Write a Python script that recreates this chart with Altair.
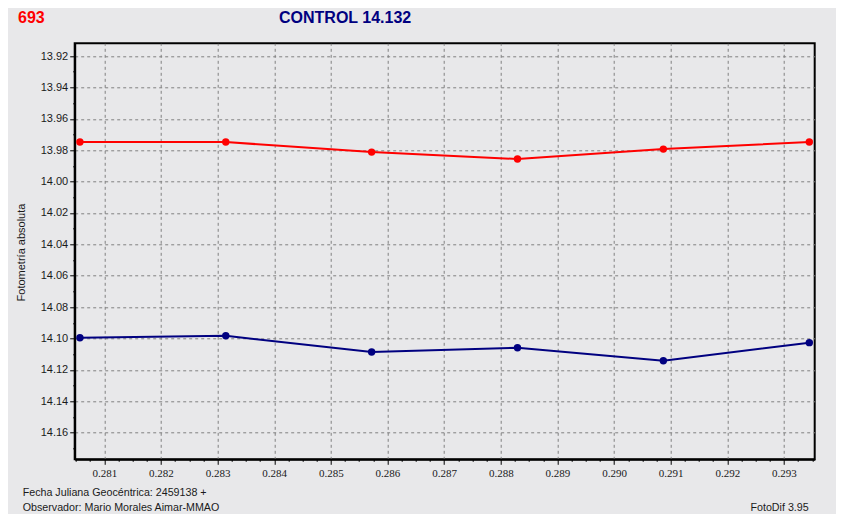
import altair as alt
import pandas as pd

# ---- data ----
jd_frac = [0.28057, 0.283145, 0.28572, 0.288295, 0.29087, 0.293447]
var_693 = [13.9748, 13.9748, 13.9812, 13.9856, 13.9793, 13.9748]
control = [14.0995, 14.0982, 14.1086, 14.1058, 14.1141, 14.1026]
series_names = ["693", "CONTROL 14.132"]
series_colors = ["#ff0000", "#000080"]

x_major = [round(0.281 + 0.001 * i, 3) for i in range(13)]
x_ticks = [round(0.2805 + 0.00025 * i, 5) for i in range(53)]
y_ticks = [round(13.92 + 0.01 * i, 2) for i in range(26)]

title_left = "693"
title_center = "CONTROL 14.132"
y_title = "Fotometría absoluta"
foot1 = "Fecha Juliana Geocéntrica: 2459138 +"
foot2 = "Observador: Mario Morales Aimar-MMAO"
foot3 = "FotoDif 3.95"

rows = []
for name, vals in zip(series_names, [var_693, control]):
    for x, y in zip(jd_frac, vals):
        rows.append({"jd": x, "mag": y, "serie": name})
df = pd.DataFrame(rows)

W, H = 740, 416
BG = "#e8e8ea"
FONT = "Liberation Sans"

x_major_test = "abs(datum.value*1000 - round(datum.value*1000)) < 0.01"
y_major_test = "round(datum.value*100) % 2 == 0"

xscale = alt.Scale(domain=[0.280478, 0.293542], nice=False, zero=False)
yscale = alt.Scale(domain=[13.9119, 14.1769], nice=False, zero=False, reverse=True)

xaxis = alt.Axis(
    values=x_ticks,
    title=None,
    labelExpr=f"{x_major_test} ? format(datum.value, '.3f') : ''",
    labelFont="Liberation Sans Narrow",
    labelFontSize=11,
    labelColor="#1a1a1a",
    labelPadding=3,
    labelOverlap=False,
    labelFlush=False,
    tickSize={"condition": {"test": x_major_test, "value": 5}, "value": 2},
    tickColor="#000000",
    domainColor="#000000",
    domainWidth=2,
    grid=True,
    gridColor="#808080",
    gridDash=[3, 3],
    gridWidth=1,
    gridOpacity={"condition": {"test": x_major_test, "value": 1}, "value": 0},
)

yaxis = alt.Axis(
    values=y_ticks,
    title=y_title,
    titleFont=FONT,
    titleFontSize=11,
    titleFontWeight="normal",
    titleColor="#1a1a1a",
    titleX=-52.7,
    titleY=208.7,
    titleBaseline="middle",
    titleAlign="center",
    titleAngle=270,
    labelExpr=f"{y_major_test} ? format(datum.value, '.2f') : ''",
    labelFont=FONT,
    labelFontSize=11,
    labelColor="#1a1a1a",
    labelPadding=2,
    labelOverlap=False,
    labelFlush=False,
    tickSize={"condition": {"test": y_major_test, "value": 5}, "value": 2},
    tickColor="#000000",
    domainColor="#000000",
    domainWidth=2,
    grid=True,
    gridColor="#808080",
    gridDash=[3, 3],
    gridWidth=1,
    gridOpacity={"condition": {"test": y_major_test, "value": 1}, "value": 0},
)

color = alt.Color("serie:N", scale=alt.Scale(domain=series_names, range=series_colors), legend=None)

base = alt.Chart(df).encode(
    x=alt.X("jd:Q", scale=xscale, axis=xaxis),
    y=alt.Y("mag:Q", scale=yscale, axis=yaxis),
    color=color,
    detail="serie:N",
)

lines = base.mark_line(strokeWidth=2)
points = base.mark_point(filled=True, size=55, opacity=1, shape="circle")


def label(text, x, y, size, weight="normal", color="#1a1a1a", align="left"):
    return alt.Chart(alt.Data(values=[{"t": text}])).mark_text(
        font=FONT, fontSize=size, fontWeight=weight, color=color,
        align=align, baseline="middle",
    ).encode(x=alt.value(x), y=alt.value(y), text="t:N")


texts = [
    label(title_left, -56.7, -25.3, 16, "bold", "#ff0000"),
    label(title_center, 204.3, -25.3, 16, "bold", "#000080"),
    label(foot1, -52, 450, 10.7),
    label(foot2, -52, 464.5, 10.7),
    label(foot3, 734, 464.5, 10.7, align="right"),
]

chart = alt.layer(lines, points, *texts).properties(
    width=W,
    height=H,
    background=BG,
    padding={"left": 66.7, "top": 35.3, "right": 21.3, "bottom": 54.7},
    autosize=alt.AutoSizeParams(type="none"),
).configure_view(
    fill=BG, stroke="#000000", strokeWidth=2
)

chart.save("out.html", embed_options={"renderer": "svg", "actions": False})
